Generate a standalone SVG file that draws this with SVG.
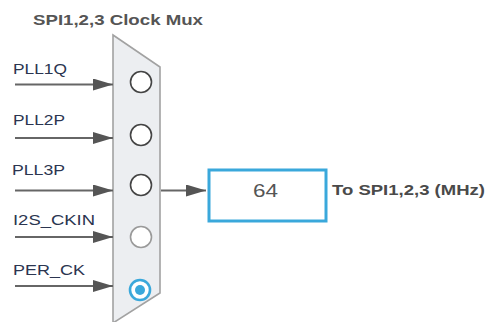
<svg xmlns="http://www.w3.org/2000/svg" width="487" height="322" viewBox="0 0 487 322">
<style>
.lbl{font-family:"Liberation Sans",Arial,sans-serif;font-size:15.5px;fill:#2b3550}
.ttl{font-family:"Liberation Sans",Arial,sans-serif;font-size:14.5px;font-weight:bold;fill:#555}
.val{font-family:"Liberation Sans",Arial,sans-serif;font-size:18px;fill:#555}
.out{font-family:"Liberation Sans",Arial,sans-serif;font-size:15px;font-weight:bold;fill:#4a4a4a}
.wire{stroke:#666;stroke-width:2;fill:none}
.opt{fill:#fff;stroke:#444;stroke-width:1.6}
.dis{fill:#fff;stroke:#9a9a9a;stroke-width:1.6}
</style>
<defs>
<marker id="ah" viewBox="0 0 20 12" refX="20" refY="6" markerWidth="20" markerHeight="12" markerUnits="userSpaceOnUse" orient="auto">
<path d="M0,0 L20,6 L0,12 z" fill="#555"/>
</marker>
</defs>
<text class="ttl" x="33" y="25" textLength="170" lengthAdjust="spacingAndGlyphs">SPI1,2,3 Clock Mux</text>
<g id="mux">
<path d="M113,35 L160,67 L160,293 L113,323 Z" fill="#eceef1" stroke="#a2a2a2" stroke-width="1.6"/>
<circle class="opt" cx="141" cy="82" r="10.5"/>
<circle class="opt" cx="141" cy="135" r="10.5"/>
<circle class="opt" cx="141" cy="185" r="10.5"/>
<circle class="dis" cx="141" cy="237" r="10.5"/>
<circle cx="140" cy="290" r="10" fill="#fff" stroke="#3aa8db" stroke-width="2.6"/>
<circle cx="140" cy="290" r="5" fill="#3aa8db"/>
</g>
<g id="labels">
<text class="lbl" x="13" y="74" textLength="54" lengthAdjust="spacingAndGlyphs">PLL1Q</text>
<text class="lbl" x="13" y="125" textLength="52" lengthAdjust="spacingAndGlyphs">PLL2P</text>
<text class="lbl" x="12" y="175" textLength="53" lengthAdjust="spacingAndGlyphs">PLL3P</text>
<text class="lbl" x="13" y="225" textLength="82" lengthAdjust="spacingAndGlyphs">I2S_CKIN</text>
<text class="lbl" x="13" y="275" textLength="72" lengthAdjust="spacingAndGlyphs">PER_CK</text>
</g>
<g id="connectors">
<line class="wire" x1="15" y1="84.5" x2="113" y2="84.5" marker-end="url(#ah)"/>
<line class="wire" x1="15" y1="138" x2="113" y2="138" marker-end="url(#ah)"/>
<line class="wire" x1="15" y1="190.5" x2="113" y2="190.5" marker-end="url(#ah)"/>
<line class="wire" x1="15" y1="237" x2="113" y2="237" marker-end="url(#ah)"/>
<line class="wire" x1="15" y1="286" x2="113" y2="286" marker-end="url(#ah)"/>
<line class="wire" x1="161" y1="190.5" x2="206" y2="190.5" marker-end="url(#ah)"/>
</g>
<g id="output">
<rect x="209" y="170" width="117" height="51" fill="#fff" stroke="#3aa8db" stroke-width="3"/>
<text class="val" x="253" y="197" textLength="25" lengthAdjust="spacingAndGlyphs">64</text>
</g>
<text class="out" x="332" y="195" textLength="153" lengthAdjust="spacingAndGlyphs">To SPI1,2,3 (MHz)</text>
</svg>
